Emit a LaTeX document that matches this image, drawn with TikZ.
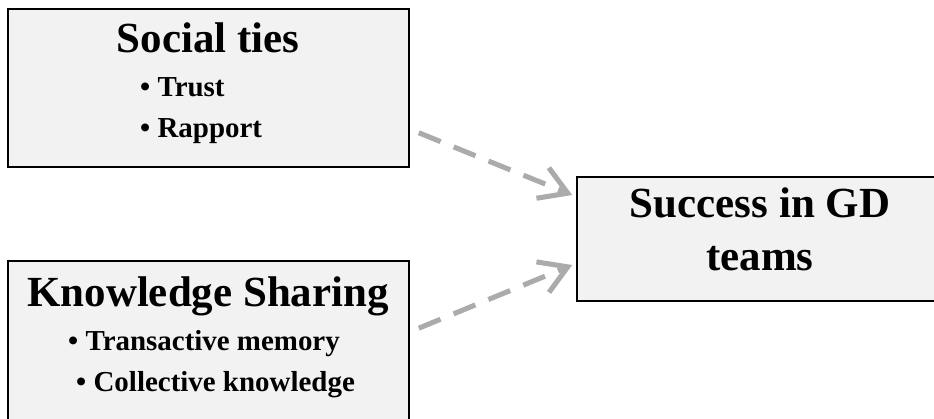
\documentclass[tikz,border=0pt]{standalone}
\usepackage{fontspec}
\setmainfont{Liberation Serif}
\usetikzlibrary{arrows.meta}

\begin{document}
\begin{tikzpicture}[x=0.85pt, y=-0.85pt]

      \tikzset{box/.style={draw, line width=1.3pt, fill=black!5, inner sep=0pt},
               heading/.style={anchor=base, inner sep=0pt, font=\bfseries\fontsize{36.5}{40}\selectfont},
               item/.style={anchor=base west, inner sep=0pt, font=\bfseries\fontsize{24.6}{28}\selectfont},
               link/.style={draw=black!33, line width=4.3pt, dash pattern=on 20pt off 12pt,
                            -{Straight Barb[length=23pt, width=28pt]}}}
      \useasboundingbox (0,0) rectangle (934,419);
      \clip (0,0) rectangle (934,419);
%% Boxes
      	\node[box, minimum width=340.9pt, minimum height=134.3pt] (social) at (208.5,88) {};
      	\node[box, minimum width=340.9pt, minimum height=160.7pt] (knowledge) at (208.5,355.5) {};
      	\node[box, minimum width=312.8pt, minimum height=105.4pt] (success) at (761,239) {};
%% Texts
      	\node[heading] (socialtitle) at (208,53) {Social ties};
      	\node[item] (trust) at (140,97) {• Trust};
      	\node[item] (rapport) at (140,138) {• Rapport};
      	\node[heading] (knowledgetitle) at (208,306) {Knowledge Sharing};
      	\node[item] (transactive) at (68,350) {• Transactive memory};
      	\node[item] (collective) at (76,391) {• Collective knowledge};
      	\node[heading] (successtitle) at (760,218) {Success in GD};
      	\node[heading] (teams) at (760,270) {teams};
%Arrows
		\path[link] ([shift={(9,-35)}]social.south east) -- ([shift={(-4,-44)}]success.west);
		\path[link] ([shift={(9,68)}]knowledge.north east) -- ([shift={(-4,26)}]success.west);

	\end{tikzpicture}
\end{document}
